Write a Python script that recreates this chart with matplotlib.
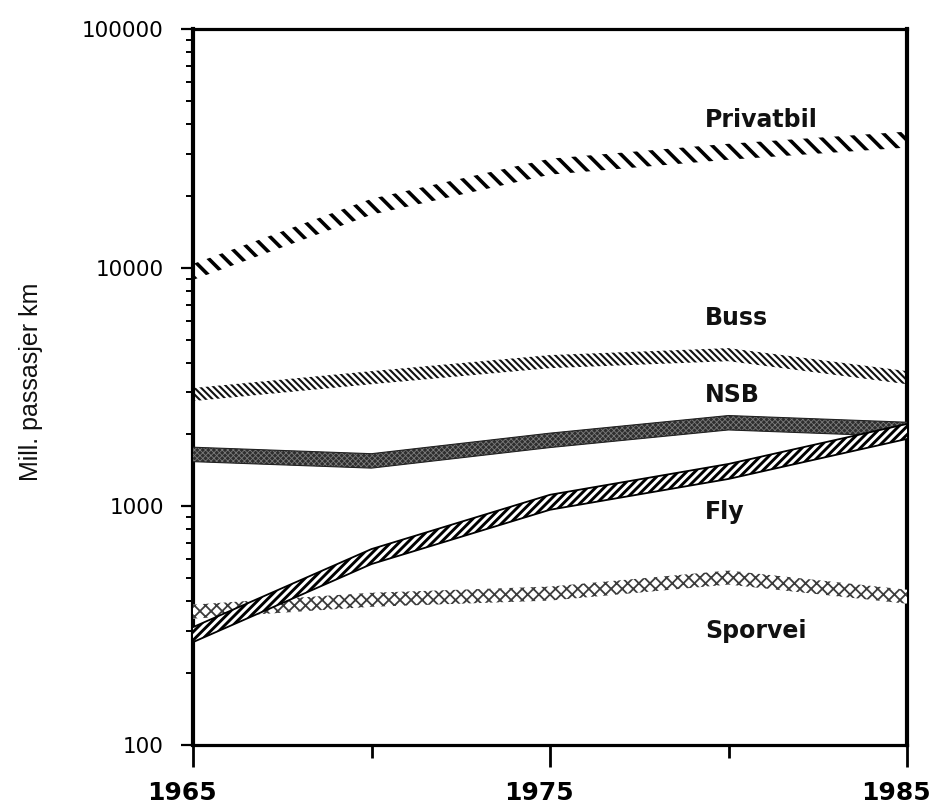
import numpy as np
import matplotlib
matplotlib.use("Agg")
import matplotlib.pyplot as plt
from matplotlib.ticker import FixedLocator, NullFormatter, FuncFormatter
from matplotlib.transforms import ScaledTranslation

# ---------------- data ----------------
years = [1965, 1970, 1975, 1980, 1985]
privatbil = [9600, 18000, 26500, 30600, 34400]
buss = [2940, 3460, 4040, 4320, 3460]
nsb = [1650, 1550, 1890, 2240, 2100]
fly = [290, 616, 1040, 1400, 2060]
sporvei = [362, 406, 431, 503, 418]

series_names = ["Privatbil", "Buss", "NSB", "Fly", "Sporvei"]
y_major = [100, 1000, 10000, 100000]
x_major = [1965, 1975, 1985]
x_minor = [1970, 1980]
ylabel = "Mill. passasjer km"

# ---------------- figure ----------------
W, H, DPI = 938, 805, 100
fig = plt.figure(figsize=(W / DPI, H / DPI), dpi=DPI)
ax = fig.add_axes([193 / W, 1 - 745 / H, (907 - 193) / W, (745 - 29) / H])
ax.set_yscale("log")
ax.set_xlim(1965, 1985)
ax.set_ylim(100, 100000)

plt.rcParams["hatch.linewidth"] = 1.5


def band(x, v, half, face, hatch, hcolor, hlw, edge=None, elw=0.0, z=2):
    v = np.asarray(v, float)
    lo, hi = v / half, v * half
    pc = ax.fill_between(x, lo, hi, facecolor=face, edgecolor=hcolor,
                         hatch=hatch, linewidth=0, zorder=z)
    if hasattr(pc, "set_hatch_linewidth"):
        pc.set_hatch_linewidth(hlw)
    if edge is not None:
        ax.plot(x, lo, color=edge, lw=elw, zorder=z + 0.1, solid_joinstyle="round")
        ax.plot(x, hi, color=edge, lw=elw, zorder=z + 0.1, solid_joinstyle="round")
    return pc


band(years, privatbil, 1.08, "none", "\\" * 2, "black", 2.6, z=2)
band(years, buss, 1.065, "none", "\\" * 5, "#111111", 1.5, z=2)
band(years, sporvei, 1.07, "white", "xxx", "#3c3c3c", 1.3, z=3)
band(years, nsb, 1.072, "#2e2e2e", "xxxxxx", "#7a7a7a", 0.6, edge="#222222", elw=0.8, z=4)
band(years, fly, 1.075, "white", "/" * 4, "black", 2.1, edge="black", elw=1.3, z=5)

# ---------------- labels ----------------
label_x = 1979.34
label_y = [38960, 5770, 2745, 888, 282]
for name, yv in zip(series_names, label_y):
    ax.text(label_x, yv, name, ha="left", va="baseline", fontsize=17,
            fontweight="bold", family="DejaVu Sans", color="#111111")

# ---------------- axes styling ----------------
for side in ["left", "right"]:
    ax.spines[side].set_linewidth(3.0)
for side in ["top", "bottom"]:
    ax.spines[side].set_linewidth(2.3)

ax.yaxis.set_major_locator(FixedLocator(y_major))
minor = [m * d for d in [100, 1000, 10000] for m in range(2, 10)]
ax.yaxis.set_minor_locator(FixedLocator(minor))
ax.yaxis.set_minor_formatter(NullFormatter())
ax.yaxis.set_major_formatter(FuncFormatter(lambda v, p: f"{int(round(v))}"))

ax.xaxis.set_major_locator(FixedLocator(x_major))
ax.xaxis.set_minor_locator(FixedLocator(x_minor))
ax.xaxis.set_major_formatter(FuncFormatter(lambda v, p: f"{int(round(v))}"))

ax.tick_params(axis="y", which="major", direction="out", length=9, width=1.6,
               pad=12, labelsize=15.5, left=True, right=False)
ax.tick_params(axis="y", which="minor", direction="out", length=5, width=1.4,
               left=True, right=False)
ax.tick_params(axis="x", which="major", direction="out", length=16, width=2.0,
               pad=10, labelsize=18, bottom=True, top=False)
ax.tick_params(axis="x", which="minor", direction="out", length=9, width=2.0,
               bottom=True, top=False)

shift = ScaledTranslation(-11 / DPI, 0, fig.dpi_scale_trans)
for lab in ax.get_xticklabels():
    lab.set_fontweight("bold")
    lab.set_transform(lab.get_transform() + shift)
for lab in ax.get_yticklabels():
    lab.set_family("DejaVu Sans")

fig.text(31 / W, 1 - 382 / H, ylabel, rotation=90, ha="center", va="center",
         fontsize=18, family="Liberation Sans", color="#111111")

fig.savefig("out.png", dpi=DPI, facecolor="white")
